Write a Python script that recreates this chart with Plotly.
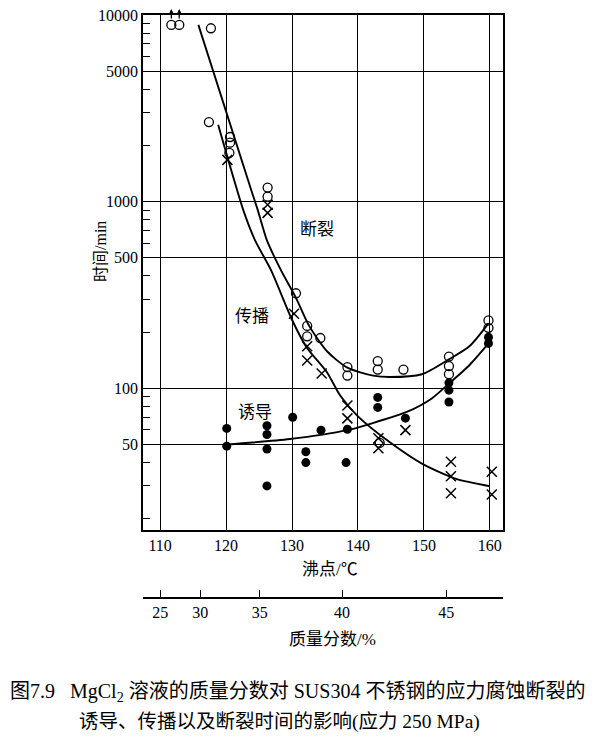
import math
import plotly.graph_objects as go

# ---------------- data ----------------
# boiling point (°C) vs time (min)
rupture_bp = [111.7, 112.9, 117.7, 117.4, 120.6, 120.6, 120.5, 126.3, 126.3, 130.6, 132.3, 132.3,
              134.3, 138.4, 138.4, 143.0, 143.0, 146.9, 143.3, 153.8, 153.8, 153.8, 159.8, 159.8]
rupture_t = [8850, 8850, 8490, 2670, 2220, 2070, 1825, 1190, 1063, 323, 216, 190,
             186, 130, 117, 140, 126, 126, 51, 148, 131.5, 119, 231, 211]

prop_bp = [120.2, 126.3, 126.3, 130.3, 132.3, 132.3, 134.5, 138.4, 138.4, 143.1, 143.1,
           147.2, 154.1, 154.1, 154.1, 160.3, 160.3]
prop_t = [1675, 963, 871, 251, 168, 141, 120, 81, 69, 54, 47.8,
          59.7, 40.4, 33.8, 27.4, 35.7, 27]

ind_bp = [120.1, 120.1, 126.2, 126.2, 126.2, 126.2, 130.1, 132.1, 132.1, 134.4, 138.4, 138.2,
          143.0, 143.0, 147.2, 153.8, 153.8, 153.8, 159.8, 159.8]
ind_t = [61, 49, 63, 56.6, 47.3, 30, 70, 45.7, 40, 59.7, 60.4, 40,
         89.4, 79, 69.2, 107, 97.8, 84.5, 188, 174]

# fitted curves
rup_curve_bp = [115.8, 123.8, 124.8, 126.2, 128.3, 130.6, 132.6, 135.3, 138.4, 142.3, 144.8,
                149.7, 153.8, 156.9, 159.8]
rup_curve_t = [8850, 1159, 904, 620, 431, 305, 216, 158, 129, 117, 115,
               119, 143, 168, 223]

prop_curve_bp = [118.8, 122.6, 124.4, 126.8, 130.0, 132.2, 135.3, 137.3, 140.0, 144.9, 149.7, 154.9, 160.0]
prop_curve_t = [2580, 904, 620, 431, 233, 166, 122, 91.5, 70.8, 51.2, 39.5, 32.7, 29.9]

ind_curve_bp = [120.1, 129.7, 138.4, 141.9, 147.4, 151.2, 153.8, 156.9, 159.8]
ind_curve_t = [50, 53.5, 59.7, 64.6, 74.7, 88.3, 106, 133, 174]

# axes
bp_ticks = [110, 120, 130, 140, 150, 160]
time_ticks = [50, 100, 500, 1000, 5000, 10000]
time_minor = [20, 30, 40, 60, 70, 80, 90, 200, 300, 400, 600, 700, 800, 900,
              2000, 3000, 4000, 6000, 7000, 8000, 9000]
mass_labels = [25, 30, 35, 40, 45]
mass_at_bp = [110.0, 116.1, 125.1, 137.6, 153.4]

# not-ruptured points (arrows)
arrow_bp = [111.7, 112.9]

SERIF = "Liberation Serif, Times New Roman, serif"
CJK = "Noto Sans CJK SC, sans-serif"
MIX = "Liberation Serif, Noto Sans CJK SC, serif"

fig = go.Figure()

line_style = dict(color="black", width=1.9, shape="spline", smoothing=0.7)
fig.add_trace(go.Scatter(x=rup_curve_bp, y=rup_curve_t, mode="lines", line=line_style, hoverinfo="skip"))
fig.add_trace(go.Scatter(x=prop_curve_bp, y=prop_curve_t, mode="lines", line=line_style, hoverinfo="skip"))
fig.add_trace(go.Scatter(x=ind_curve_bp, y=ind_curve_t, mode="lines", line=line_style, hoverinfo="skip"))

fig.add_trace(go.Scatter(x=rupture_bp, y=rupture_t, mode="markers",
                         marker=dict(symbol="circle-open", size=9, color="black", line=dict(width=1.3))))
fig.add_trace(go.Scatter(x=prop_bp, y=prop_t, mode="markers",
                         marker=dict(symbol="x-thin-open", size=10, color="black", line=dict(width=1.5, color="black"))))
fig.add_trace(go.Scatter(x=ind_bp, y=ind_t, mode="markers",
                         marker=dict(symbol="circle", size=9, color="black")))

# invisible trace to carry the secondary (mass fraction) axis
fig.add_trace(go.Scatter(x=mass_at_bp, y=[time_ticks[0]] * len(mass_at_bp), xaxis="x2", mode="markers",
                         marker=dict(opacity=0), hoverinfo="skip"))

# page is offset by the browser's default 8px body margin
OFF = 8
M_L, M_T, M_R, M_B = 143 - OFF, 15 - OFF, 600 - (503 - OFF), 128
plot_h = 750 - M_T - M_B
plot_w = 600 - M_L - M_R


def py(px):
    """page pixel y -> paper fraction"""
    return (750 - M_B - (px - OFF)) / plot_h


def pxx(px):
    """page pixel x -> paper fraction"""
    return (px - OFF - M_L) / plot_w


fig.update_layout(
    width=600, height=750,
    margin=dict(l=M_L, r=M_R, t=M_T, b=M_B, autoexpand=False),
    paper_bgcolor="white", plot_bgcolor="white",
    showlegend=False,
    xaxis=dict(range=[107.4, 162], tickvals=bp_ticks, showgrid=True, gridcolor="black", gridwidth=1.3,
               showline=True, mirror=True, linecolor="black", linewidth=1.5, ticks="", zeroline=False,
               tickfont=dict(family=SERIF, size=16, color="black"), anchor="y"),
    yaxis=dict(type="log", range=[1.241, 4], tickvals=time_ticks, ticktext=[str(v) for v in time_ticks],
               domain=[py(530), 1], showgrid=True, gridcolor="black", gridwidth=1.3,
               showline=True, mirror=True, linecolor="black", linewidth=1.5,
               ticks="inside", ticklen=7, tickcolor="black", tickwidth=1.3,
               ticklabeloverflow="allow",
               minor=dict(tickvals=time_minor, ticks="inside", ticklen=7, tickcolor="black",
                          tickwidth=1.3, showgrid=False),
               tickfont=dict(family=SERIF, size=16, color="black"), zeroline=False),
    xaxis2=dict(overlaying="x", anchor="free", position=py(598), side="bottom", range=[107.4, 162],
                tickvals=mass_at_bp, ticktext=[str(v) for v in mass_labels], showgrid=False,
                showline=True, linecolor="black", linewidth=1.5, ticks="inside", ticklen=7,
                tickcolor="black", tickwidth=1.3, zeroline=False,
                tickfont=dict(family=SERIF, size=16, color="black")),
)

ann = []
# curve labels
ann.append(dict(x=133.8, y=math.log10(730), text="断裂", xref="x", yref="y", showarrow=False,
                xanchor="center", yanchor="middle", font=dict(family=CJK, size=17, color="black")))
ann.append(dict(x=124.0, y=math.log10(250), text="传播", xref="x", yref="y", showarrow=False,
                xanchor="center", yanchor="middle", font=dict(family=CJK, size=17, color="black")))
ann.append(dict(x=124.4, y=math.log10(76), text="诱导", xref="x", yref="y", showarrow=False,
                xanchor="center", yanchor="middle", font=dict(family=CJK, size=17, color="black")))
# arrows for specimens not ruptured
for b in arrow_bp:
    ann.append(dict(x=b, y=py(9), xref="x", yref="paper", text="", showarrow=True,
                    arrowhead=2, arrowsize=0.8, arrowwidth=1.3, arrowcolor="black", ax=0, ay=11))
# axis titles
ann.append(dict(x=pxx(100), y=py(252), xref="paper", yref="paper", text="时间/min", textangle=-90,
                xanchor="center", yanchor="middle",
                showarrow=False, font=dict(family=MIX, size=16, color="black")))
ann.append(dict(x=pxx(330), y=py(569), xref="paper", yref="paper", text="沸点/℃",
                xanchor="center", yanchor="middle",
                showarrow=False, font=dict(family=MIX, size=17, color="black")))
ann.append(dict(x=pxx(332), y=py(639), xref="paper", yref="paper", text="质量分数/%",
                xanchor="center", yanchor="middle",
                showarrow=False, font=dict(family=MIX, size=17, color="black")))
# caption
ann.append(dict(x=pxx(8), y=py(692), xref="paper", yref="paper", xanchor="left", yanchor="middle",
                text="图7.9   MgCl<sub>2</sub> 溶液的质量分数对 SUS304 不锈钢的应力腐蚀断裂的",
                showarrow=False, font=dict(family=MIX, size=20, color="black")))
ann.append(dict(x=pxx(77), y=py(722), xref="paper", yref="paper", xanchor="left", yanchor="middle",
                text="诱导、传播以及断裂时间的影响(应力 250 MPa)",
                showarrow=False, font=dict(family=MIX, size=19.5, color="black")))
fig.update_layout(annotations=ann)

fig.write_html("out.html")
